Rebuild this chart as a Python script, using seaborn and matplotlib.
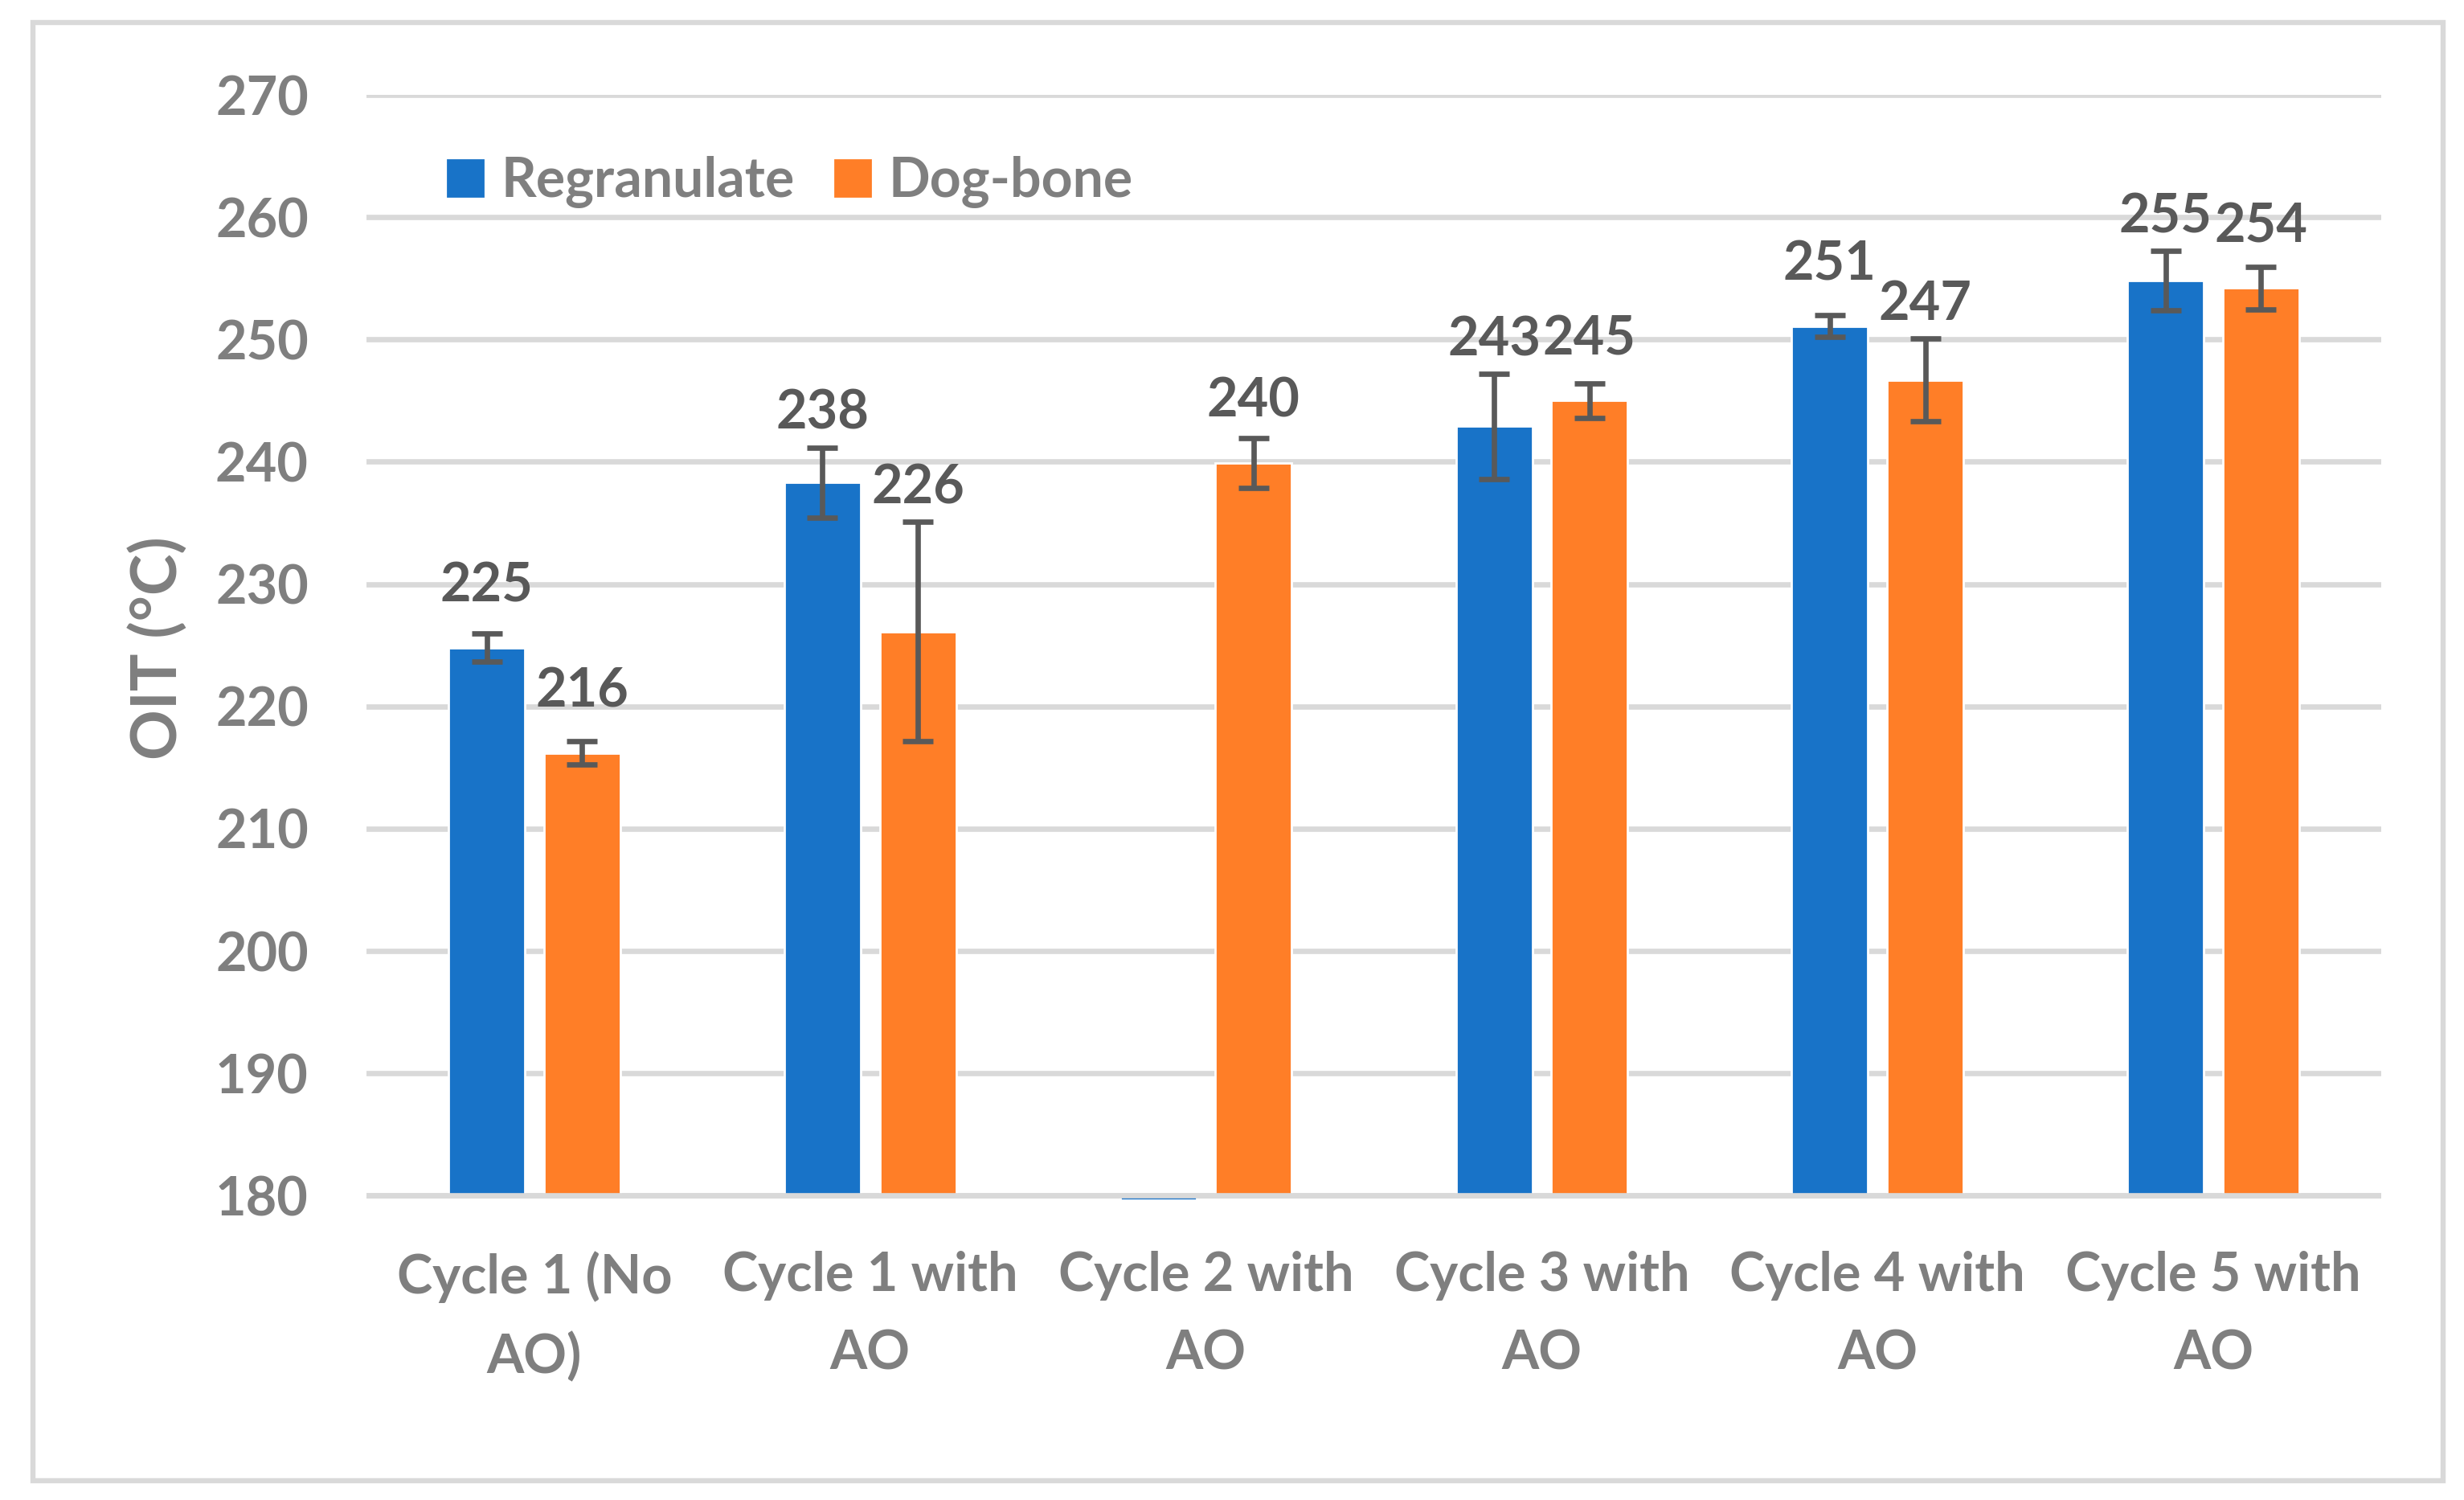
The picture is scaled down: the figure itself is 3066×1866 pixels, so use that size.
import matplotlib
matplotlib.use("Agg")
import matplotlib.pyplot as plt
import matplotlib.patches as mpatches
import numpy as np
import pandas as pd
import seaborn as sns

# chart data
categories = ["Cycle 1 (No\nAO)", "Cycle 1 with\nAO", "Cycle 2 with\nAO",
              "Cycle 3 with\nAO", "Cycle 4 with\nAO", "Cycle 5 with\nAO"]
series = ["Regranulate", "Dog-bone"]
regranulate = [224.8, 238.3, 179.6, 242.9, 251.1, 254.8]
regranulate_err = [1.15, 2.87, np.nan, 4.3, 0.88, 2.42]
dogbone = [216.2, 226.1, 239.9, 245.0, 246.7, 254.2]
dogbone_err = [0.94, 8.97, 2.05, 1.4, 3.37, 1.75]
yticks = [180, 190, 200, 210, 220, 230, 240, 250, 260, 270]
ylabel = "OIT (°C)"

colors = ["#1873C8", "#FF7E27"]
grid_col = "#D9D9D9"
text_col = "#7F7F7F"
label_col = "#595959"


def main():
    sns.set_theme(style="white")
    plt.rcParams['font.family'] = ['Lato', 'DejaVu Sans']
    plt.rcParams['font.weight'] = 'bold'

    df = pd.DataFrame({
        "cycle": categories * 2,
        "oit": regranulate + dogbone,
        "err": regranulate_err + dogbone_err,
        "series": [series[0]] * len(categories) + [series[1]] * len(categories),
    })

    fig = plt.figure(figsize=(15.33, 9.33), dpi=200)
    ax = fig.add_axes([0.14873, 0.19936, 0.96641 - 0.14873, 0.93676 - 0.19936])

    sns.barplot(data=df, x="cycle", y="oit", hue="series", hue_order=series,
                palette=colors, saturation=1, width=0.568, gap=0.2,
                errorbar=None, legend=False, ax=ax, zorder=2)

    base = yticks[0]
    ax.set_ylim(179.56, 270)
    ax.set_yticks(yticks)
    ax.set_yticklabels([str(t) for t in yticks])
    ax.set_xlim(-0.5, len(categories) - 0.5)
    ax.yaxis.grid(True, color=grid_col, linewidth=2.4)
    ax.xaxis.grid(False)
    ax.set_axisbelow(True)
    for s in ax.spines.values():
        s.set_visible(False)
    # category axis crosses at the axis floor, like the spreadsheet chart
    ax.axhline(base, color=grid_col, linewidth=2.4, zorder=2.5)

    # bars grow from the axis floor; error bars and value labels
    for cont, name in zip(ax.containers, series):
        sub = df[df["series"] == name]
        vals = sub["oit"].to_numpy()
        errs = sub["err"].to_numpy()
        for b, v in zip(cont, vals):
            b.set_y(base)
            b.set_height(v - base)
        xs = [b.get_x() + b.get_width() / 2 for b in cont]
        ax.errorbar(xs, vals, yerr=errs, fmt='none', ecolor=label_col,
                    elinewidth=2.4, capsize=7, capthick=2.4, zorder=3)
        for x, v, e in zip(xs, vals, errs):
            if v < base:
                continue
            top = v + 3.75
            if not np.isnan(e):
                top = max(top, v + e + 1.5)
            ax.text(x, top, f"{v:.0f}", ha='center', va='baseline',
                    fontsize=24, fontweight='bold', color=label_col, zorder=4)

    ax.set_xlabel("")
    ax.set_ylabel(ylabel, fontsize=28, fontweight='bold', color=text_col, labelpad=12)
    ax.tick_params(axis='y', length=0, pad=26, labelsize=24, labelcolor=text_col)
    ax.tick_params(axis='x', length=0, pad=22.5, labelsize=24, labelcolor=text_col)
    for t in ax.get_xticklabels() + ax.get_yticklabels():
        t.set_fontweight('bold')
    for t in ax.get_xticklabels():
        t.set_linespacing(1.7)

    handles = [mpatches.Patch(color=c, label=s) for c, s in zip(colors, series)]
    ax.legend(handles=handles, loc='center left', bbox_to_anchor=(0.0403, 0.9208),
              ncol=2, frameon=False, handlelength=0.64, handleheight=0.64,
              handletextpad=0.33, columnspacing=0.75, borderpad=0, borderaxespad=0,
              prop=dict(family=['Lato', 'DejaVu Sans'], weight='bold', size=24.5),
              labelcolor=text_col)

    # light grey chart border
    fig.patches.append(mpatches.Rectangle((0.01353, 0.01286), 0.99152 - 0.01353,
                                          0.98526 - 0.01286, transform=fig.transFigure,
                                          fill=False, edgecolor=grid_col, linewidth=2.3))

    fig.savefig("out.png", dpi=200, facecolor='white')
    plt.close(fig)


if __name__ == "__main__":
    main()
